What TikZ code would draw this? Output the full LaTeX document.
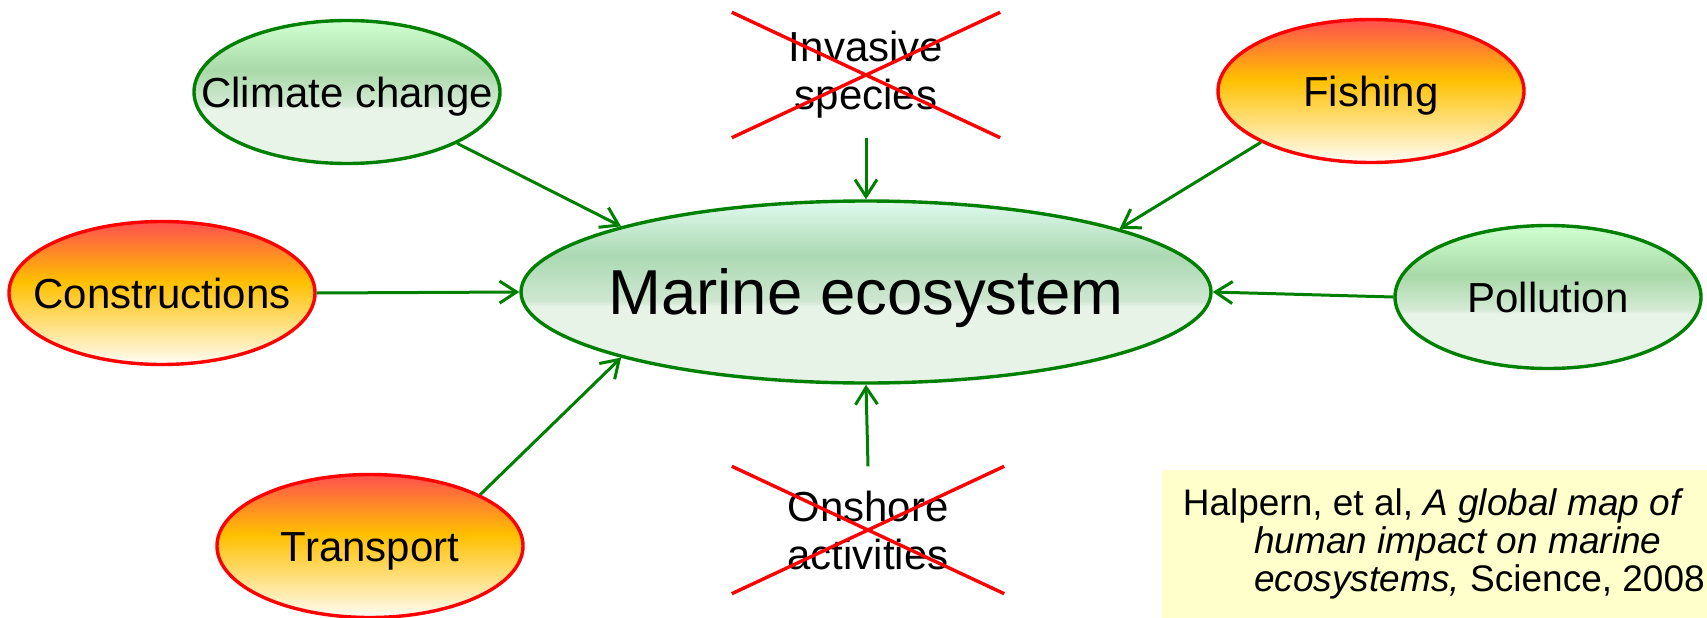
\documentclass[tikz,border=0pt]{standalone}
\usepackage{fontspec}
\setmainfont{Liberation Sans}
\usepackage{xcolor}
\usepackage{tikz}
\usetikzlibrary{arrows.meta,shapes.geometric}
\definecolor{leaf}{HTML}{008000}
\definecolor{fire}{HTML}{FF0000}
\definecolor{paper}{HTML}{FFFFCC}
\definecolor{leaftop}{HTML}{D0FFD0}
\definecolor{leafdark}{HTML}{A9D9A9}
\definecolor{leafmid}{HTML}{D5EAD5}
\definecolor{leaflow}{HTML}{E9F4E9}
\definecolor{seatop}{HTML}{E0FAEE}
\definecolor{seadark}{HTML}{ABD9B2}
\definecolor{seamid}{HTML}{CFE7D1}
\definecolor{sealow}{HTML}{E8F3E8}
\definecolor{firetop}{HTML}{FF5050}
\definecolor{firemid}{HTML}{FFC000}
\definecolor{firelow}{HTML}{FFFDF6}
\pgfdeclareverticalshading{leafshade}{100bp}{color(0bp)=(leaflow); color(25bp)=(leaflow); color(44bp)=(leaflow); color(45.5bp)=(leafmid); color(57.5bp)=(leafdark); color(75bp)=(leaftop); color(100bp)=(leaftop)}
\pgfdeclareverticalshading{seashade}{100bp}{color(0bp)=(sealow); color(25bp)=(sealow); color(46bp)=(sealow); color(47.5bp)=(seamid); color(60bp)=(seadark); color(75bp)=(seatop); color(100bp)=(seatop)}
\pgfdeclareverticalshading{fireshade}{100bp}{color(0bp)=(firelow); color(25bp)=(firelow); color(54bp)=(firemid); color(75bp)=(firetop); color(100bp)=(firetop)}

\begin{document}
\begin{tikzpicture}[x=1pt,y=-1pt,>={Straight Barb[length=17pt,width=22pt]}]
  \tikzstyle{calm}=[ellipse,draw=leaf,line width=3.4pt,shading=leafshade,minimum width=306pt,minimum height=143pt,inner xsep=-60pt,inner ysep=0pt,text height=30pt,text depth=0pt,font=\fontsize{42}{48}\selectfont]
  \tikzstyle{hot}=[calm,draw=fire,shading=fireshade]
  \tikzstyle{gone}=[align=center,inner sep=0pt,font=\fontsize{42}{48}\selectfont]
  \tikzstyle{link}=[->,leaf,line width=3pt]
  \tikzstyle{redx}=[fire,line width=3.4pt]
  \useasboundingbox (0,0) rectangle (1707,618);
  \node[calm,minimum width=690pt,minimum height=182pt,shading=seashade,text height=45pt,font=\fontsize{63.5}{70}\selectfont] (mar) at (866,292) {Marine ecosystem};
  \node[calm] (clim) at (347,92) {Climate change};
  \node[hot] (cons) at (162,293) {Constructions};
  \node[hot] (trans) at (370,546) {Transport};
  \node[hot] (fish) at (1371,91) {Fishing};
  \node[calm] (poll) at (1548,297) {Pollution};
  \node[gone,minimum width=268pt,minimum height=125pt] (inv) at (866,75) {Invasive\\species};
  \node[gone,minimum width=272pt,minimum height=127pt] (ons) at (868,530) {Onshore\\activities};
  \draw[redx] (inv.north west) -- (inv.south east) (inv.south west) -- (inv.north east);
  \draw[redx] (ons.north west) -- (ons.south east) (ons.south west) -- (ons.north east);
  \draw[link] (clim.-25) -- (mar.165);
  \draw[link] (cons.east) -- (mar.west);
  \draw[link] (trans.25) -- (mar.195);
  \draw[link] (fish.205) -- (mar.14);
  \draw[link] (poll.west) -- (mar.east);
  \draw[link] (inv.south) -- (mar.north);
  \draw[link] (ons.north) -- (mar.south);
  \node[fill=paper,minimum width=545pt,minimum height=148pt,align=left,inner sep=0pt,font=\fontsize{37}{38}\selectfont] (cite) at (1434.5,544) {\hspace*{18.5pt}Halpern, et al, \textit{A global map of}\\\hspace*{90pt}\textit{human impact on marine}\\\hspace*{90pt}\textit{ecosystems,} Science, 2008};
\end{tikzpicture}
\end{document}
